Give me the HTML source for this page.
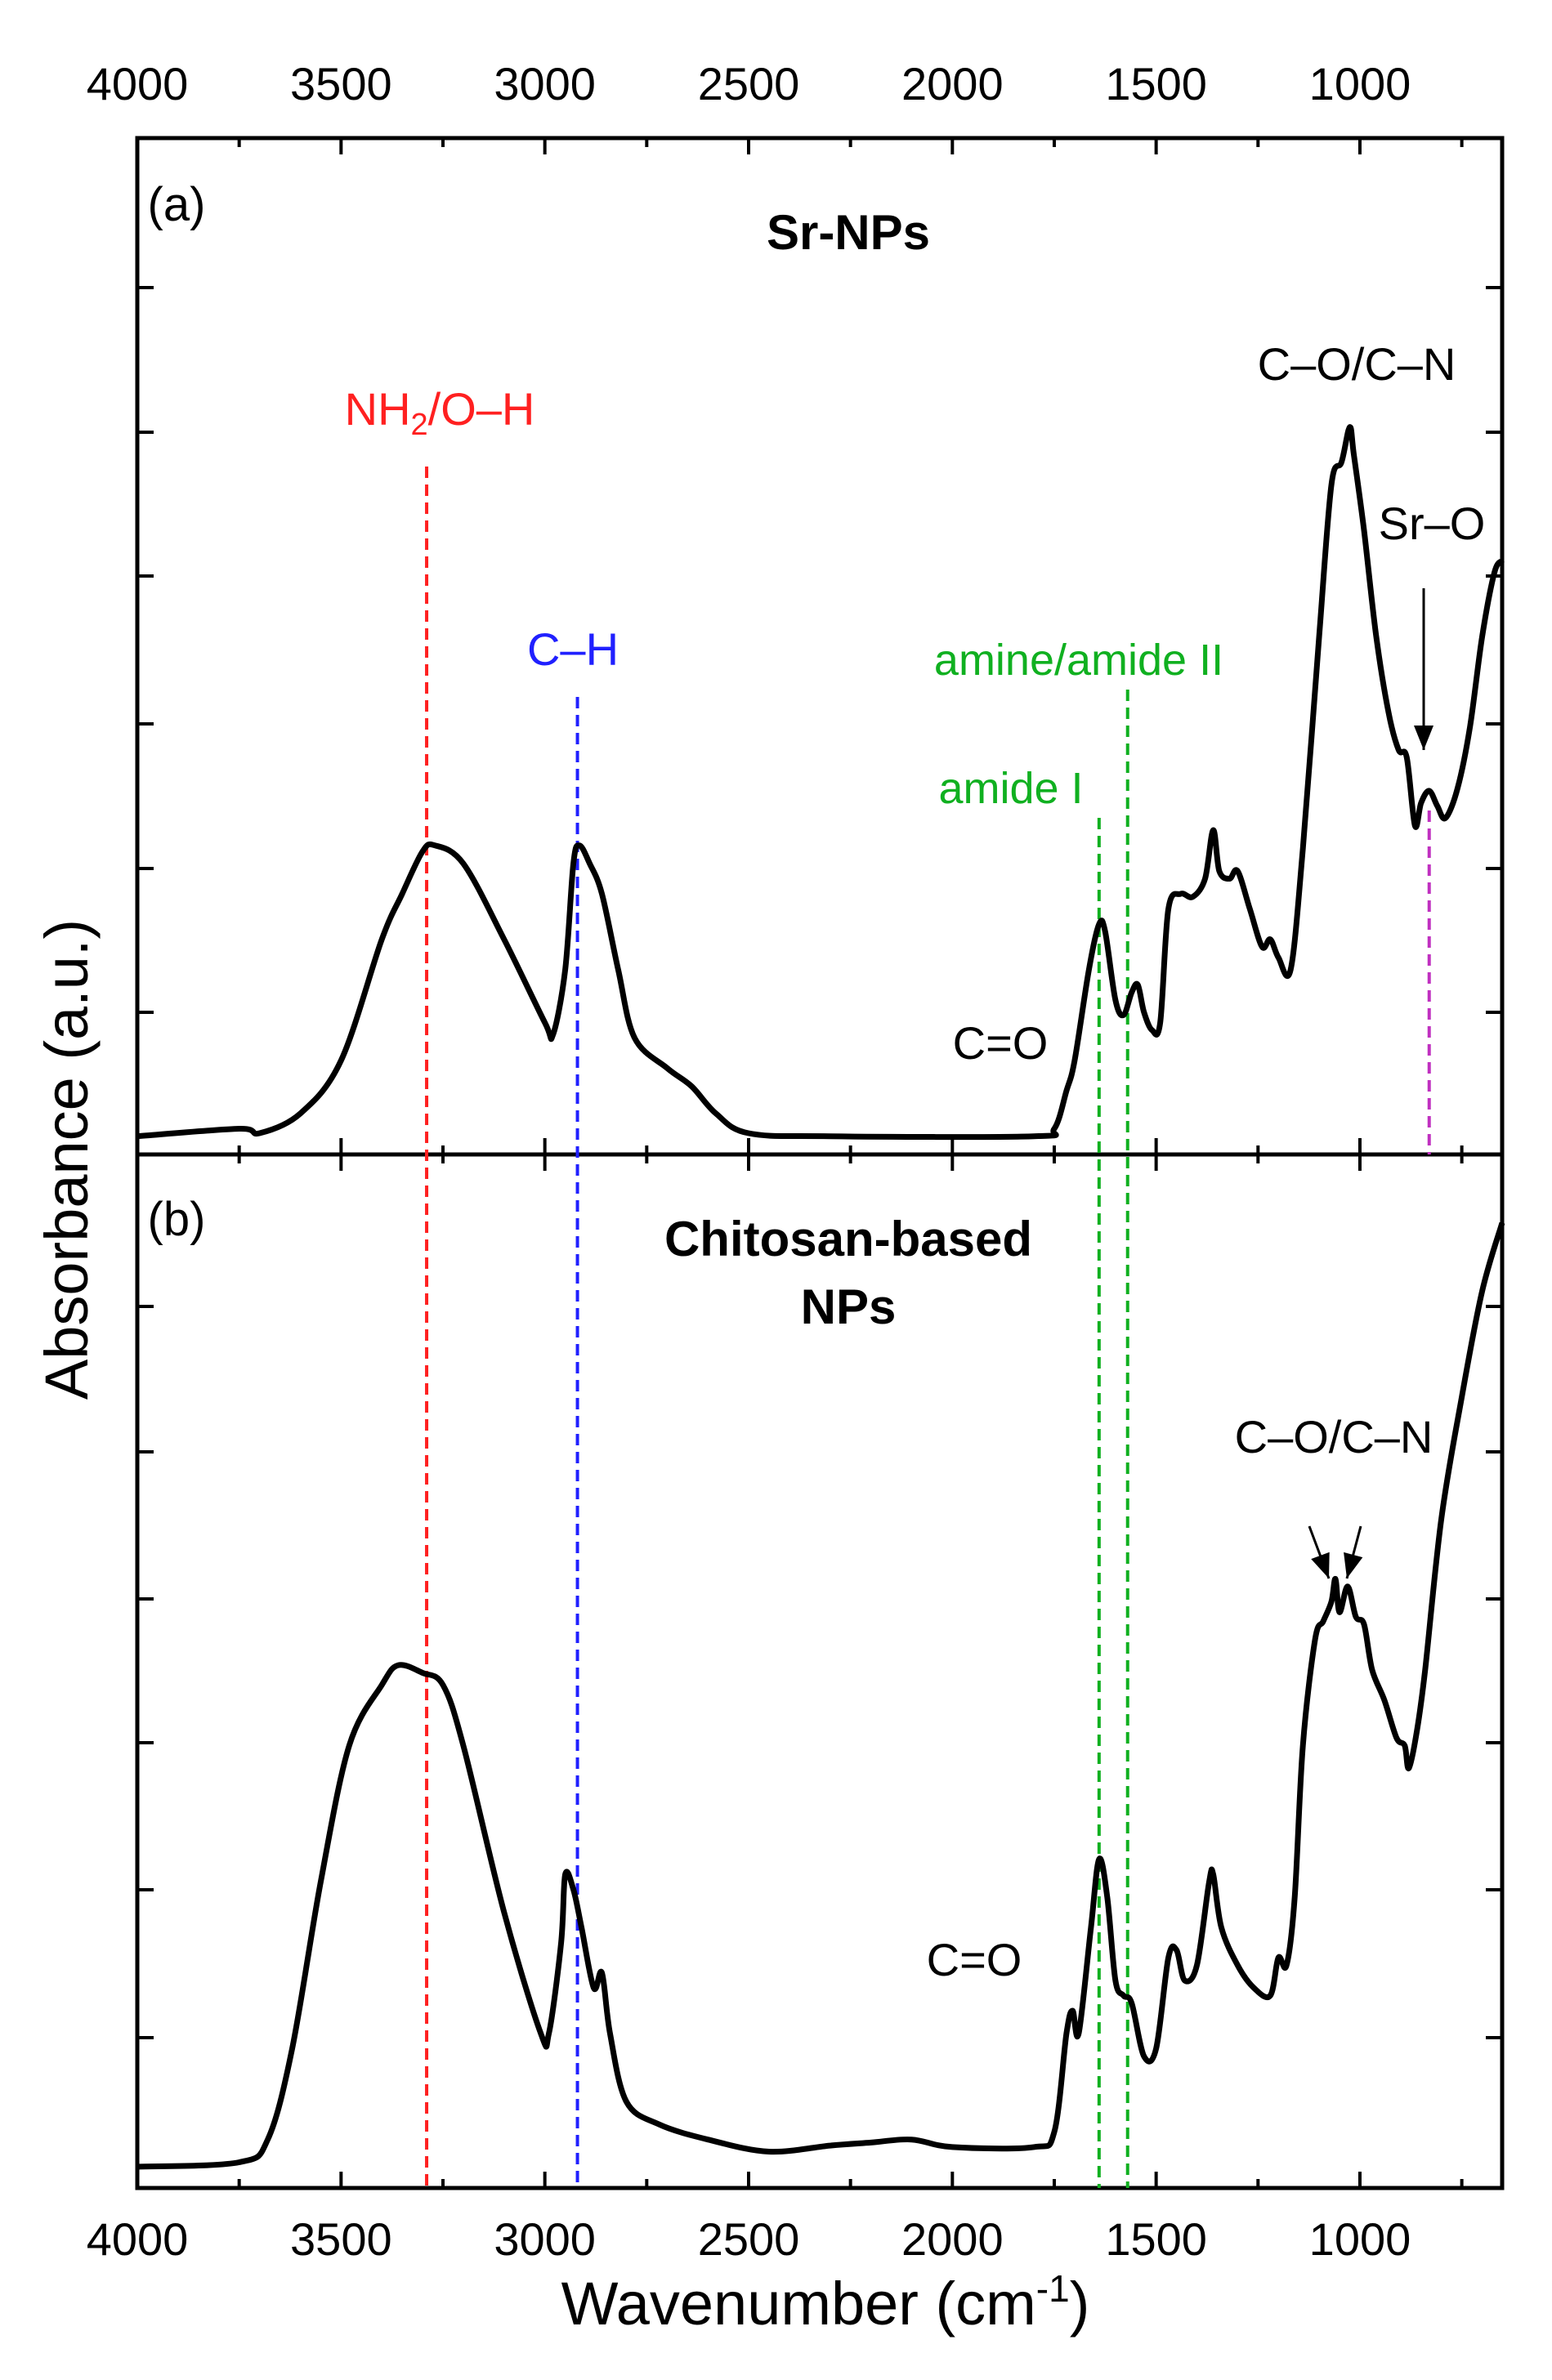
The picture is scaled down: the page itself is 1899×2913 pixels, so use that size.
<!DOCTYPE html>
<html><head><meta charset="utf-8"><style>
html,body{margin:0;padding:0;background:#fff}
svg{display:block}
text{font-family:"Liberation Sans Narrow","Liberation Sans",sans-serif}
</style></head><body>
<svg id="chart" width="1899" height="2913" viewBox="0 0 1899 2913" xmlns="http://www.w3.org/2000/svg"></svg>
<script>
// ---- data ----
const xTicks = [4000,3500,3000,2500,2000,1500,1000];
const wnA = [4000,3750,3700,3600,3500,3400,3350,3300,3270,3200,3100,3000,2980,2950,2930,2915,2890,2860,2820,2780,2700,2640,2580,2500,2300,1800,1750,1720,1700,1665,1640,1625,1600,1580,1560,1545,1530,1510,1490,1470,1440,1410,1380,1360,1345,1320,1300,1270,1240,1220,1200,1170,1140,1100,1070,1045,1025,1015,990,960,930,905,885,865,850,830,810,790,760,730,700,670,651];
const absA = [12,17,14,27,62,142,172,200,204,192,142,87,79,122,192,204,192,172,122,77,57,45,27,14,12,12,17,42,62,122,152,147,102,92,107,112,94,82,87,162,172,170,182,214,187,182,187,162,137,142,130,122,202,342,442,457,480,462,412,342,292,267,262,217,232,240,230,222,242,282,342,384,392];
const wnB = [4000,3750,3680,3620,3550,3480,3400,3360,3300,3250,3200,3100,3010,2990,2960,2950,2930,2910,2880,2860,2840,2800,2720,2600,2450,2300,2200,2100,2000,1800,1750,1720,1705,1690,1660,1640,1620,1600,1580,1560,1530,1500,1470,1450,1430,1400,1370,1360,1340,1300,1260,1220,1200,1180,1160,1140,1110,1090,1070,1060,1050,1030,1010,990,970,940,910,890,880,860,840,800,750,700,651];
const absB = [14,17,32,92,202,292,332,345,340,332,292,182,102,102,162,207,197,172,132,142,102,57,42,32,24,28,30,32,27,27,37,102,117,102,172,217,192,137,127,122,87,92,152,157,137,147,202,207,172,147,132,127,152,147,192,292,362,374,387,402,380,397,377,372,342,322,297,292,277,302,342,442,522,592,637];
const markerWn = [3290,2920,1640,1570,830];

// ---- layout ----
const svg=document.getElementById('chart');
const NS='http://www.w3.org/2000/svg';
const L=168,R=1838,T=169,MID=1413,B=2678;
const X=w=>L+(4000-w)*(R-L)/(4000-651);
const YA=h=>MID-h*1.8545;
const YB=h=>B-h*1.8545;
function el(tag,attrs,parent){const e=document.createElementNS(NS,tag);for(const k in attrs)e.setAttribute(k,attrs[k]);(parent||svg).appendChild(e);return e;}
function txt(s,x,y,size,opts){const t=el('text',Object.assign({x:x,y:y,'font-size':size,'text-anchor':'middle'},opts||{}));t.textContent=s;return t;}

const fa=el('rect',{x:L,y:T,width:R-L,height:MID-T,fill:'none',stroke:'#000','stroke-width':5});

const fb=el('rect',{x:L,y:MID,width:R-L,height:B-MID,fill:'none',stroke:'#000','stroke-width':5});


for(let w=4000;w>=651;w-=250){
  const major=(w%500===0), len=major?20:11, x=X(w);
  [[T,1],[MID,-1],[MID,1],[B,-1]].forEach(([y,d])=>{
    const t=el('line',{x1:x,x2:x,y1:y,y2:y+d*len,stroke:'#000','stroke-width':4});
    
  });
}
[352,529,705,886,1063,1239,1599,1777,1957,2133,2313,2494].forEach(y=>{
  [[L,1],[R,-1]].forEach(([x,d])=>{
    const t=el('line',{x1:x,x2:x+d*20,y1:y,y2:y,stroke:'#000','stroke-width':4});
    
  });
});
xTicks.forEach(w=>{
  const a=txt(String(w),X(w),122,56,{'font-family':'Liberation Sans, sans-serif'});
  
  const b=txt(String(w),X(w),2760,56,{'font-family':'Liberation Sans, sans-serif'});
  
});

const mColors=['#ff2020','#2020ff','#10b020','#10b020','#c030c0'];
const mTop=[571,853,1001,844,992];
const mBot=[B,B,B,B,MID];
markerWn.forEach((w,i)=>{
  const l=el('line',{x1:X(w),x2:X(w),y1:mTop[i],y2:mBot[i],stroke:mColors[i],'stroke-width':4,'stroke-dasharray':'14,8'});
  
});

function curve(wn,ab,Y,name){
  const P=wn.map((w,i)=>[X(w),Y(ab[i])]);
  let d='M'+P[0][0].toFixed(1)+','+P[0][1].toFixed(1);
  for(let i=0;i<P.length-1;i++){
    const p0=P[Math.max(0,i-1)],p1=P[i],p2=P[i+1],p3=P[Math.min(P.length-1,i+2)];
    const c1=[p1[0]+(p2[0]-p0[0])/6,p1[1]+(p2[1]-p0[1])/6];
    const c2=[p2[0]-(p3[0]-p1[0])/6,p2[1]-(p3[1]-p1[1])/6];
    d+=' C'+c1[0].toFixed(1)+','+c1[1].toFixed(1)+' '+c2[0].toFixed(1)+','+c2[1].toFixed(1)+' '+p2[0].toFixed(1)+','+p2[1].toFixed(1);
  }
  const p=el('path',{d:d,fill:'none',stroke:'#000','stroke-width':7,'stroke-linejoin':'round'});
  
}
curve(wnA,absA,YA,'sr-nps-spectrum');
curve(wnB,absB,YB,'chitosan-spectrum');

let t;
t=txt('(a)',216,270,58,{'font-family':'Liberation Sans, sans-serif'});
t=txt('Sr-NPs',1038,305,60,{'font-weight':'bold','font-family':'Liberation Sans, sans-serif'});
t=txt('(b)',216,1512,58,{'font-family':'Liberation Sans, sans-serif'});
t=txt('Chitosan-based',1038,1537,60,{'font-weight':'bold','font-family':'Liberation Sans, sans-serif'});
t=txt('NPs',1038,1620,60,{'font-weight':'bold','font-family':'Liberation Sans, sans-serif'});
t=txt('',538,520,56,{fill:'#ff2020'});t.innerHTML='NH<tspan font-size="38" dy="12">2</tspan><tspan dy="-12">/O–H</tspan>';
t=txt('C–H',701,814,56,{fill:'#2020ff'});
t=txt('amine/amide II',1320,826,54,{fill:'#10b020'});
t=txt('amide I',1237,983,54,{fill:'#10b020'});
t=txt('C–O/C–N',1660,465,56);
t=txt('Sr–O',1752,660,56);
t=txt('C=O',1224,1296,56);
t=txt('C–O/C–N',1632,1778,56);
t=txt('C=O',1192,2418,56);

function arrow(x1,y1,x2,y2,name){
  const a=el('line',{x1:x1,y1:y1,x2:x2,y2:y2,stroke:'#000','stroke-width':3});
  
  const ang=Math.atan2(y2-y1,x2-x1),s=30,w=12;
  const bx=x2-s*Math.cos(ang),by=y2-s*Math.sin(ang);
  const h=el('polygon',{points:`${x2},${y2} ${bx-w*Math.sin(ang)},${by+w*Math.cos(ang)} ${bx+w*Math.sin(ang)},${by-w*Math.cos(ang)}`,fill:'#000'});
  
}
arrow(1742,720,1742,918,'sr-o-arrow');
arrow(1602,1868,1626,1932,'co-cn-arrow-1');
arrow(1665,1868,1648,1932,'co-cn-arrow-2');

t=txt('Wavenumber (cm',1010,2845,74,{'font-family':'Liberation Sans, sans-serif'});
t.innerHTML='Wavenumber (cm<tspan font-size="46" dy="-28">-1</tspan><tspan dy="28">)</tspan>';

t=txt('Absorbance (a.u.)',0,0,74,{'font-family':'Liberation Sans, sans-serif',transform:'translate(107,1419) rotate(-90)'});

</script>
</body></html>
